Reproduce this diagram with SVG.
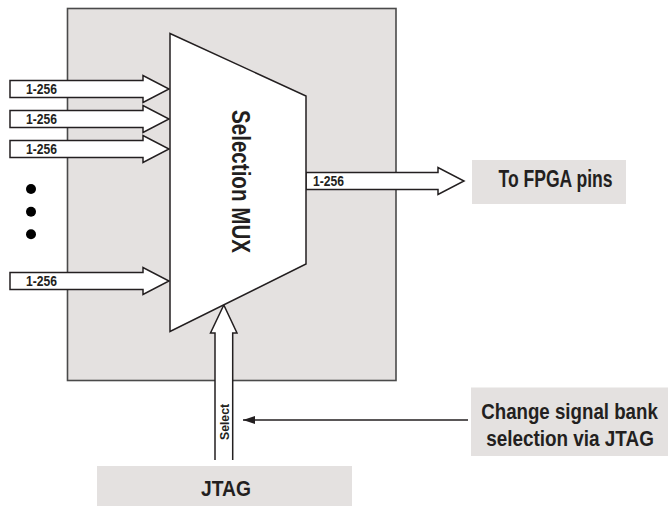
<svg xmlns="http://www.w3.org/2000/svg" width="670" height="506" viewBox="0 0 670 506">
<defs>
<style>
.t{font-family:"Liberation Sans",Arial,sans-serif;font-weight:bold;fill:#231f20}
.arr{fill:#fff;stroke:#231f20;stroke-width:1.5;stroke-linejoin:miter}
.lbl{font-size:14px}
.box{fill:#e4e1e0}
</style>
<marker id="ah" viewBox="0 0 12 8" refX="12" refY="4" markerWidth="12" markerHeight="8" markerUnits="userSpaceOnUse" orient="auto">
<path d="M0,0 L12,4 L0,8 Z" fill="#231f20"/>
</marker>
</defs>
<rect width="670" height="506" fill="#fff"/>
<g id="fpga-block">
<rect x="67.5" y="8.5" width="328.5" height="372" fill="#e4e1e0" stroke="#4a4a4a" stroke-width="1.6"/>
</g>
<g id="connectors">
<g id="in1"><polygon class="arr" points="10,80.5 143,80.5 143,75.5 169,89 143,102.5 143,97.5 10,97.5"/><text class="t lbl" x="26" y="94" textLength="31" lengthAdjust="spacingAndGlyphs">1-256</text></g>
<g id="in2"><polygon class="arr" points="10,110.5 143,110.5 143,105.5 169,119 143,132.5 143,127.5 10,127.5"/><text class="t lbl" x="26" y="124" textLength="31" lengthAdjust="spacingAndGlyphs">1-256</text></g>
<g id="in3"><polygon class="arr" points="10,140.5 143,140.5 143,135.5 169,149 143,162.5 143,157.5 10,157.5"/><text class="t lbl" x="26" y="154" textLength="31" lengthAdjust="spacingAndGlyphs">1-256</text></g>
<g id="in4"><polygon class="arr" points="10,272.5 143,272.5 143,267.5 169,281 143,294.5 143,289.5 10,289.5"/><text class="t lbl" x="26" y="286" textLength="31" lengthAdjust="spacingAndGlyphs">1-256</text></g>
<g id="out"><polygon class="arr" points="306,172.5 438,172.5 438,167.5 464,181 438,194.5 438,189.5 306,189.5"/><text class="t lbl" x="313" y="186" textLength="31" lengthAdjust="spacingAndGlyphs">1-256</text></g>
<g id="select"><path class="arr" d="M215,460 L215,333 L210.5,333 L223.8,305 L237,333 L232.7,333 L232.7,460"/><text class="t" font-size="12.5" transform="translate(228.5,422) rotate(-90)" text-anchor="middle" textLength="36" lengthAdjust="spacingAndGlyphs">Select</text></g>
<line x1="468" y1="420" x2="243" y2="420" stroke="#231f20" stroke-width="1.5" marker-end="url(#ah)"/>
</g>
<g id="dots" fill="#000">
<circle cx="31" cy="189" r="5"/>
<circle cx="31" cy="211.7" r="5"/>
<circle cx="31" cy="234.3" r="5"/>
</g>
<g id="mux">
<polygon points="170,33.5 306,96 306,264 170,331.5" fill="#fff" stroke="#231f20" stroke-width="1.5"/>
<text class="t" font-size="25" transform="translate(231.5,181.5) rotate(90)" text-anchor="middle" textLength="143" lengthAdjust="spacingAndGlyphs">Selection MUX</text>
</g>
<g id="fpga-pins">
<rect class="box" x="472" y="160" width="154" height="44"/>
<text class="t" font-size="23" x="555.5" y="187" text-anchor="middle" textLength="114" lengthAdjust="spacingAndGlyphs">To FPGA pins</text>
</g>
<g id="change-note">
<rect class="box" x="471" y="387.5" width="197" height="68.5"/>
<text class="t" font-size="22" transform="translate(569.5,419) scale(0.85,1)" text-anchor="middle">Change signal bank</text>
<text class="t" font-size="22" transform="translate(570,446) scale(0.86,1)" text-anchor="middle">selection via JTAG</text>
</g>
<g id="jtag">
<rect class="box" x="97" y="466" width="255" height="40"/>
<text class="t" font-size="21.5" x="226" y="496" text-anchor="middle" textLength="50" lengthAdjust="spacingAndGlyphs">JTAG</text>
</g>
</svg>
